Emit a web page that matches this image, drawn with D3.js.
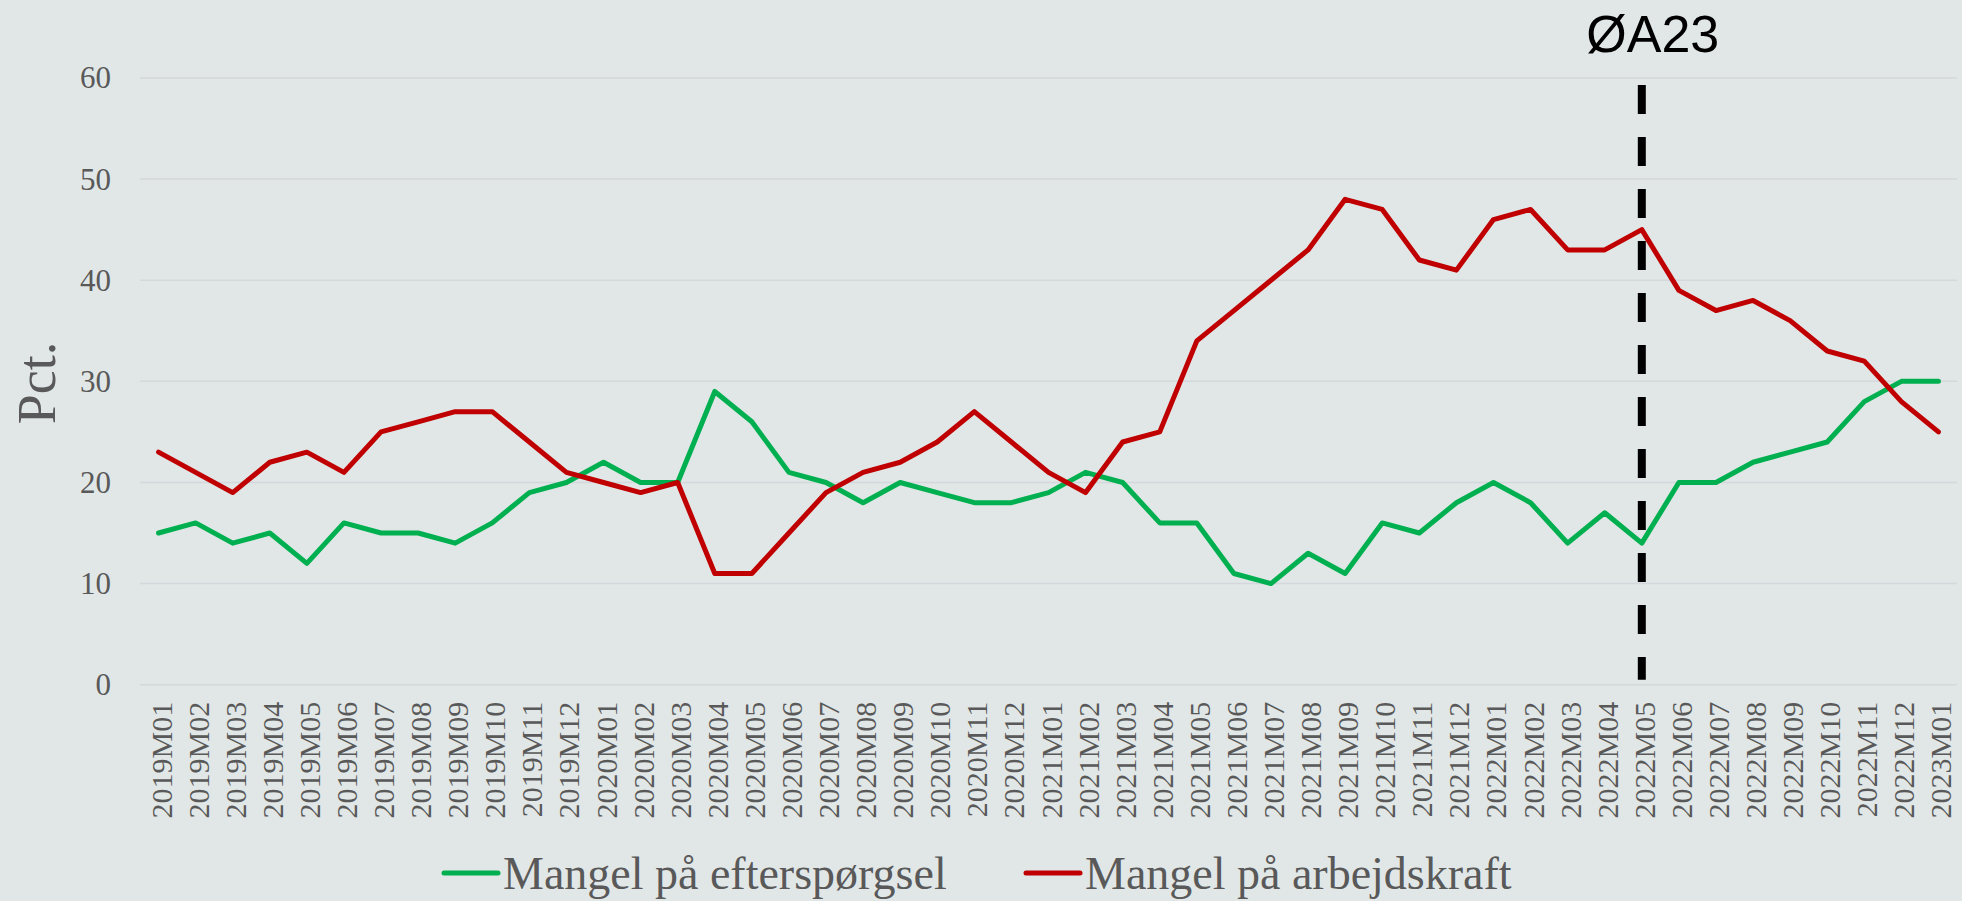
<!DOCTYPE html>
<html>
<head>
<meta charset="utf-8">
<script src="https://cdn.jsdelivr.net/npm/d3@7"></script>
<style>
  body { margin: 0; background: #e1e7e7; }
  svg { display: block; }
</style>
</head>
<body>
<svg id="chart"></svg>
<script>
// periods 2019M01 .. 2023M01
const periods = [
  '2019M01','2019M02','2019M03','2019M04','2019M05','2019M06','2019M07','2019M08','2019M09','2019M10','2019M11','2019M12',
  '2020M01','2020M02','2020M03','2020M04','2020M05','2020M06','2020M07','2020M08','2020M09','2020M10','2020M11','2020M12',
  '2021M01','2021M02','2021M03','2021M04','2021M05','2021M06','2021M07','2021M08','2021M09','2021M10','2021M11','2021M12',
  '2022M01','2022M02','2022M03','2022M04','2022M05','2022M06','2022M07','2022M08','2022M09','2022M10','2022M11','2022M12',
  '2023M01'
];

const demandShortage = [
  15, 16, 14, 15, 12, 16, 15, 15, 14, 16, 19, 20,
  22, 20, 20, 29, 26, 21, 20, 18, 20, 19, 18, 18,
  19, 21, 20, 16, 16, 11, 10, 13, 11, 16, 15, 18,
  20, 18, 14, 17, 14, 20, 20, 22, 23, 24, 28, 30,
  30
];

const labourShortage = [
  23, 21, 19, 22, 23, 21, 25, 26, 27, 27, 24, 21,
  20, 19, 20, 11, 11, 15, 19, 21, 22, 24, 27, 24,
  21, 19, 24, 25, 34, 37, 40, 43, 48, 47, 42, 41,
  46, 47, 43, 43, 45, 39, 37, 38, 36, 33, 32, 28,
  25
];

const seriesNames = ['Mangel på efterspørgsel', 'Mangel på arbejdskraft'];
const seriesColors = ['#00b050', '#c00000'];
const yTicks = [0, 10, 20, 30, 40, 50, 60];
const markerPeriod = '2022M05';
const markerLabel = 'ØA23';
const yLabel = 'Pct.';

const width = 1962, height = 901;
const textColor = '#595959';
const serif = '"Liberation Serif", "Times New Roman", serif';

const svg = d3.select('#chart')
  .attr('width', width)
  .attr('height', height);

svg.append('rect')
  .attr('width', width)
  .attr('height', height)
  .attr('fill', '#e1e7e7');

const x = d3.scalePoint()
  .domain(periods)
  .range([140, 1957])
  .padding(0.5);

const y = d3.scaleLinear()
  .domain([0, 60])
  .range([684.7, 78]);

// gridlines
svg.append('g')
  .selectAll('line')
  .data(yTicks)
  .join('line')
  .attr('x1', 140)
  .attr('x2', 1957)
  .attr('y1', d => y(d))
  .attr('y2', d => y(d))
  .attr('stroke', '#d4d7db')
  .attr('stroke-width', 1.5);

// y axis labels
const yAxis = svg.append('g')
  .attr('transform', 'translate(140,0)')
  .call(d3.axisLeft(y).tickValues(yTicks).tickSize(0).tickPadding(29));
yAxis.select('.domain').remove();
yAxis.selectAll('text')
  .attr('font-family', serif)
  .attr('font-size', 31)
  .attr('fill', textColor);

// x axis labels, rotated
const xAxis = svg.append('g')
  .attr('transform', `translate(0,${y(0)})`)
  .call(d3.axisBottom(x).tickSize(0).tickPadding(0));
xAxis.select('.domain').remove();
xAxis.selectAll('text')
  .attr('font-family', serif)
  .attr('font-size', 30)
  .attr('fill', textColor)
  .attr('text-anchor', 'end')
  .attr('dy', '0.35em')
  .attr('transform', 'translate(2,17) rotate(-90)');

// y title
svg.append('text')
  .attr('transform', 'translate(55,383) rotate(-90)')
  .attr('text-anchor', 'middle')
  .attr('font-family', serif)
  .attr('font-size', 54)
  .attr('fill', textColor)
  .text(yLabel);

// marker line
const mx = x(markerPeriod);
svg.append('line')
  .attr('x1', mx)
  .attr('x2', mx)
  .attr('y1', y(59.3))
  .attr('y2', y(0.5))
  .attr('stroke', '#000')
  .attr('stroke-width', 8)
  .attr('stroke-dasharray', '29 23');

svg.append('text')
  .attr('x', mx + 11)
  .attr('y', 52)
  .attr('text-anchor', 'middle')
  .attr('font-family', '"Liberation Sans", Arial, sans-serif')
  .attr('font-size', 52)
  .attr('fill', '#000')
  .text(markerLabel);

// lines
const line = d3.line()
  .x((d, i) => x(periods[i]))
  .y(d => y(d));

[demandShortage, labourShortage].forEach((values, k) => {
  svg.append('path')
    .datum(values)
    .attr('fill', 'none')
    .attr('stroke', seriesColors[k])
    .attr('stroke-width', 5)
    .attr('stroke-linejoin', 'round')
    .attr('stroke-linecap', 'round')
    .attr('d', line);
});

// legend
const legendX = [444, 1026];
const legend = svg.append('g')
  .selectAll('g')
  .data(seriesNames)
  .join('g')
  .attr('transform', (d, i) => `translate(${legendX[i]},873)`);

legend.append('line')
  .attr('x1', 0)
  .attr('x2', 54)
  .attr('stroke', (d, i) => seriesColors[i])
  .attr('stroke-width', 5)
  .attr('stroke-linecap', 'round');

legend.append('text')
  .attr('x', 59)
  .attr('y', 16)
  .attr('font-family', serif)
  .attr('font-size', 46)
  .attr('fill', textColor)
  .text(d => d);
</script>
</body>
</html>
